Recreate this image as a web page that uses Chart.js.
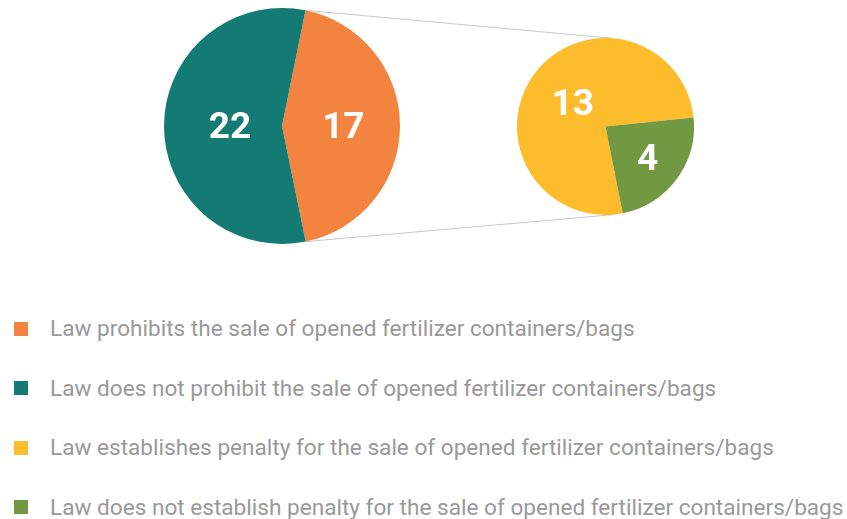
<!DOCTYPE html>
<html>
<head>
<meta charset="utf-8">
<script src="https://cdn.jsdelivr.net/npm/chart.js@4/dist/chart.umd.min.js"></script>
<style>
  body { margin: 0; background: #fff; font-family: Roboto, sans-serif; }
  #wrap { position: relative; width: 847px; height: 519px; overflow: hidden; }
  #links { position: absolute; left: 0; top: 0; }
  #mainPie { position: absolute; left: 164px; top: 8px; }
  #subPie { position: absolute; left: 517px; top: 38px; }
  #legend { position: absolute; left: 14px; top: 299px; }
  .item { height: 59.5px; display: flex; align-items: center; font-size: 22.6px; color: #999; white-space: nowrap; }
  .box { width: 14px; height: 14px; margin-right: 22px; flex: none; }
</style>
</head>
<body>
<div id="wrap">
  <canvas id="links" width="847" height="260"></canvas>
  <canvas id="mainPie" width="236" height="236"></canvas>
  <canvas id="subPie" width="177" height="177"></canvas>
  <div id="legend"></div>
</div>
<script>
(function () {
    "use strict";

    var mainLabels = [
        "Law prohibits the sale of opened fertilizer containers/bags",
        "Law does not prohibit the sale of opened fertilizer containers/bags"
    ];
    var mainValues = [17, 22];
    var mainColors = ["#F3843F", "#137B74"];

    var subLabels = [
        "Law establishes penalty for the sale of opened fertilizer containers/bags",
        "Law does not establish penalty for the sale of opened fertilizer containers/bags"
    ];
    var subValues = [13, 4];
    var subColors = ["#FDBC2C", "#739842"];

    // white numbers inside the slices
    var sliceLabels = {
        id: "sliceLabels",
        afterDatasetsDraw: function (chart, args, opts) {
            var ctx = chart.ctx;
            var meta = chart.getDatasetMeta(0);
            var values = chart.data.datasets[0].data;
            ctx.save();
            ctx.fillStyle = "#fff";
            ctx.font = "bold 37px Roboto";
            ctx.textAlign = "center";
            ctx.textBaseline = "middle";
            meta.data.forEach(function (arc, i) {
                var mid = (arc.startAngle + arc.endAngle) / 2;
                var r = arc.outerRadius * opts.dist[i];
                ctx.fillText(String(values[i]), arc.x + Math.cos(mid) * r, arc.y + Math.sin(mid) * r + 3);
            });
            ctx.restore();
        }
    };

    function pieOptions(rotation, dist) {
        return {
            responsive: false,
            animation: false,
            rotation: rotation,
            layout: { padding: 0 },
            plugins: {
                legend: { display: false },
                tooltip: { enabled: false },
                sliceLabels: { dist: dist }
            }
        };
    }

    var mainChart = new Chart(document.getElementById("mainPie").getContext("2d"), {
        type: "pie",
        data: {
            labels: mainLabels,
            datasets: [{ data: mainValues, backgroundColor: mainColors, borderWidth: 0 }]
        },
        options: pieOptions(11.5, [0.52, 0.44]),
        plugins: [sliceLabels]
    });

    var subChart = new Chart(document.getElementById("subPie").getContext("2d"), {
        type: "pie",
        data: {
            labels: subLabels,
            datasets: [{ data: subValues, backgroundColor: subColors, borderWidth: 0 }]
        },
        options: pieOptions(168.8, [0.46, 0.59]),
        plugins: [sliceLabels]
    });

    // connector lines between the two pies
    var mainCanvas = document.getElementById("mainPie");
    var subCanvas = document.getElementById("subPie");
    var arc = mainChart.getDatasetMeta(0).data[0];
    var sub = subChart.getDatasetMeta(0).data[0];
    var ax = mainCanvas.offsetLeft + arc.x, ay = mainCanvas.offsetTop + arc.y;
    var bx = subCanvas.offsetLeft + sub.x, by = subCanvas.offsetTop + sub.y;
    var tilt = 85 * Math.PI / 180;
    var lctx = document.getElementById("links").getContext("2d");
    lctx.strokeStyle = "#c8c8c8";
    lctx.lineWidth = 1;
    [[arc.startAngle, -tilt], [arc.endAngle, tilt]].forEach(function (p) {
        lctx.beginPath();
        lctx.moveTo(ax + Math.cos(p[0]) * arc.outerRadius, ay + Math.sin(p[0]) * arc.outerRadius);
        lctx.lineTo(bx + Math.cos(p[1]) * sub.outerRadius, by + Math.sin(p[1]) * sub.outerRadius);
        lctx.stroke();
    });

    // legend, all four categories
    var legend = document.getElementById("legend");
    mainLabels.concat(subLabels).forEach(function (text, i) {
        var color = mainColors.concat(subColors)[i];
        var row = document.createElement("div");
        row.className = "item";
        row.innerHTML = '<span class="box" style="background:' + color + '"></span><span>' + text + "</span>";
        legend.appendChild(row);
    });
})();
</script>
</body>
</html>
